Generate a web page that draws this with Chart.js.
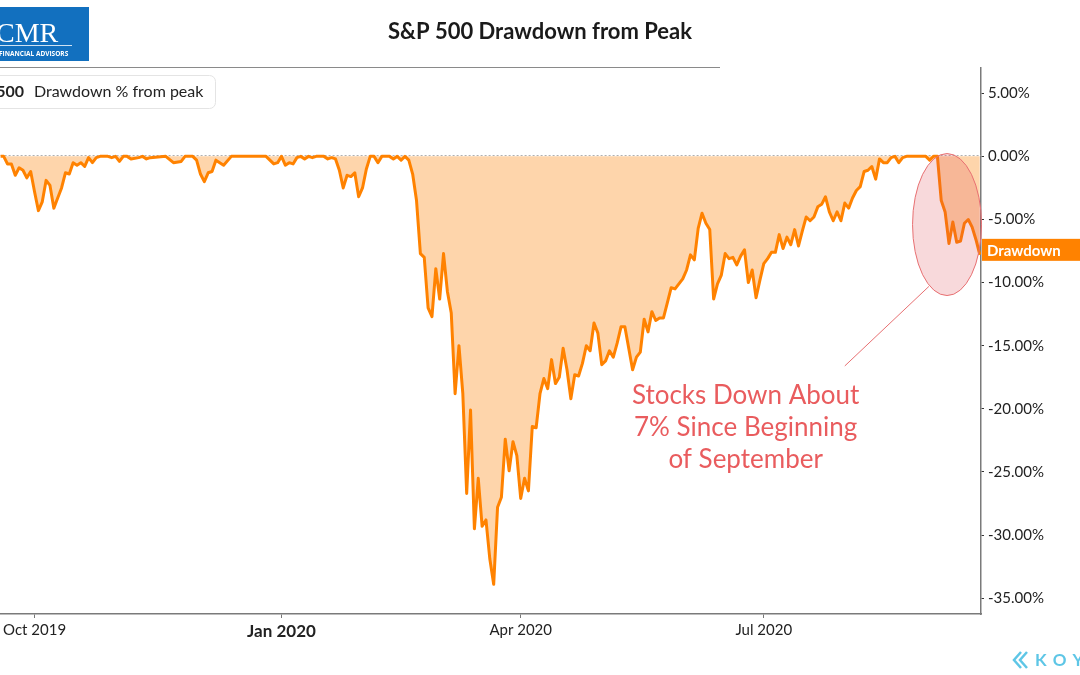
<!DOCTYPE html>
<html>
<head>
<meta charset="utf-8">
<title>S&amp;P 500 Drawdown from Peak</title>
<script src="https://cdn.jsdelivr.net/npm/chart.js@4.4.1/dist/chart.umd.min.js"></script>
<style>
  html, body { margin: 0; padding: 0; background: #fff; }
  #wrap { position: relative; width: 1080px; height: 675px; }
</style>
</head>
<body>
<div id="wrap"><canvas id="drawdownChart"></canvas></div>
<script>
// x = trading days counted from 1 Oct 2019 (day 0)
const tradingDay = [
  -9, -8, -7, -6, -5, -4, -3, -2, -1, 0, 1, 2, 3, 4, 5, 6, 7, 8, 9, 10,
  11, 12, 13, 14, 15, 16, 17, 19, 20, 21, 22, 23, 24, 25, 27, 28, 29, 30, 34, 36,
  38, 39, 41, 42, 43, 44, 45, 46, 47, 48, 49, 51, 60, 62, 63, 64, 65, 66, 67, 68,
  69, 70, 71, 72, 73, 75, 76, 77, 78, 79, 80, 81, 82, 83, 84, 85, 86, 87, 88, 89,
  90, 92, 93, 94, 95, 96, 97, 98, 99,
  100, 101, 102, 103, 104, 105, 106, 107, 108, 109, 110, 111, 112, 113, 114, 115, 116, 117, 118, 119,
  120, 121, 122, 123, 124, 125, 126, 127, 128, 129, 130, 131, 132, 133, 134, 135, 136, 137, 138, 139,
  140, 141, 142, 143, 144, 145, 146, 147, 148, 149, 150, 151, 152, 153, 154, 155, 156, 157, 158, 159,
  160, 161, 162, 163, 164, 165, 166, 167, 168, 169, 170, 171, 172, 173, 174, 175, 176, 177, 178, 179,
  180, 181, 182, 183, 184, 185, 186, 187, 188, 189, 190, 191, 192, 193, 194, 195, 196, 197, 198, 199,
  200, 201, 202, 203, 204, 205, 206, 207, 208, 209, 210, 211, 212, 213, 214, 215, 216, 217, 218, 219,
  220, 221, 222, 223, 224, 225, 226, 231, 232, 233, 234, 235, 236, 237, 238, 239, 240, 241, 242, 243,
  244, 245
];

// drawdown from peak, %
const drawdown = [
  0, 0, -0.6, -0.6, -1.5, -0.9, -1.1, -1.7, -1.2, -2.8, -4.3, -3.6, -1.9, -2.3, -4.1, -3.3, -2.5, -1.3, -1.4, -0.5,
  -0.7, -0.5, -0.8, -0.1, -0.5, -0.1, 0, 0, -0.1, 0, -0.4, 0, 0, -0.2, -0.1, 0, -0.2, -0.1, 0, -0.5,
  -0.4, 0, 0, -0.3, -1.4, -2.0, -1.3, -1.2, -0.3, -0.5, -0.7, 0, 0, -0.6, -0.5, 0, -0.7, -0.5, -0.6, -0.1,
  0, -0.2, 0, -0.1, 0, 0, -0.2, -0.1, -0.2, -1.1, -2.5, -1.5, -1.6, -1.3, -3.2, -2.5, -1.0, 0, 0, -0.5,
  0, 0, -0.2, 0, -0.3, 0, -0.3, -1.4, -3.5,
  -7.7, -8.0, -12.0, -12.7, -8.9, -11.3, -7.7, -10.7, -12.4, -18.8, -15.0, -18.8, -26.7, -20.1, -29.5, -25.5, -29.3, -28.8, -31.9, -33.9,
  -27.8, -27.0, -22.4, -24.9, -22.6, -23.7, -27.1, -25.5, -26.5, -21.4, -21.5, -18.8, -17.6, -18.4, -16.1, -18.0, -17.5, -15.2, -16.9, -19.2,
  -17.3, -17.4, -16.4, -15.0, -15.4, -13.2, -14.0, -16.5, -16.2, -15.4, -15.9, -14.8, -13.5, -13.5, -15.2, -16.9, -15.9, -15.5, -12.9, -13.9,
  -12.3, -13.0, -12.8, -12.8, -11.6, -10.4, -10.5, -10.1, -9.7, -9.0, -7.8, -8.2, -5.7, -4.5, -5.3, -5.8, -11.3, -10.1, -9.4, -7.7,
  -8.1, -8.0, -8.6, -7.9, -7.4, -10.0, -9.0, -11.2, -9.8, -8.5, -8.1, -7.6, -7.6, -6.2, -7.3, -6.4, -7.0, -5.8, -7.1, -5.9,
  -4.8, -5.1, -4.8, -4.0, -3.8, -3.2, -4.4, -5.1, -4.4, -5.1, -3.7, -4.1, -3.3, -2.7, -2.4, -1.2, -1.1, -0.8, -1.8, -0.2,
  -0.5, -0.5, -0.1, 0, -0.5, -0.1, 0, 0, -0.3, 0, 0, -3.5, -4.4, -6.9, -5.2, -6.8, -6.7, -5.3, -5.0, -5.6,
  -6.6, -7.8
];

const tickDays = [0, 64, 126, 189];
const tickLabels = ["Oct 2019", "Jan 2020", "Apr 2020", "Jul 2020"];
const yTicks = [5, 0, -5, -10, -15, -20, -25, -30, -35];

const calloutLines = ["Stocks Down About", "7% Since Beginning", "of September"];

const ORANGE = "#ff8200";
const PEACH = "#fed5ab";
const CALLOUT = "#e95c5e";
const FONT = "Lato, sans-serif";

Chart.defaults.font.family = FONT;

const decorations = {
  id: "decorations",
  beforeDraw(chart) {
    const c = chart.ctx;
    c.save();
    c.fillStyle = "#fff";
    c.fillRect(0, 0, chart.width, chart.height);

    // CMR logo (cut at the left edge)
    c.fillStyle = "#1270bf";
    c.fillRect(0, 7, 89, 54);
    c.fillStyle = "#fff";
    c.font = '28px "Liberation Serif", "DejaVu Serif", serif';
    c.textAlign = "left";
    c.textBaseline = "alphabetic";
    c.fillText("CMR", -4, 42);
    c.globalAlpha = 0.8;
    c.fillRect(0, 45, 72, 1);
    c.globalAlpha = 1;
    c.font = 'bold 6.5px "Open Sans", sans-serif';
    c.fillText("FINANCIAL ADVISORS", -1, 56);

    // title
    c.fillStyle = "#1a1a1a";
    c.font = "bold 22px " + FONT;
    c.textAlign = "center";
    c.fillText("S&P 500 Drawdown from Peak", 540, 39);

    // header rule
    c.strokeStyle = "#8a8a8a";
    c.lineWidth = 1;
    c.beginPath();
    c.moveTo(0, chart.chartArea.top - 0.5);
    c.lineTo(720, chart.chartArea.top - 0.5);
    c.stroke();

    // legend box
    c.strokeStyle = "#e4e4e4";
    c.lineWidth = 1;
    c.beginPath();
    c.roundRect(-10.5, 75.5, 226, 33, 6);
    c.stroke();
    c.fillStyle = "#222";
    c.textAlign = "right";
    c.font = "bold 16px " + FONT;
    c.fillText("S&P 500", 24, 97);
    c.textAlign = "left";
    c.font = "16px " + FONT;
    c.fillText("Drawdown % from peak", 34, 97);
    c.restore();
  },
  beforeDatasetsDraw(chart) {
    const c = chart.ctx;
    const area = chart.chartArea;
    const y0 = Math.round(chart.scales.y.getPixelForValue(0)) - 0.5;
    c.save();
    c.strokeStyle = "#b0b0b0";
    c.lineWidth = 1;
    c.setLineDash([2, 2]);
    c.beginPath();
    c.moveTo(area.left, y0);
    c.lineTo(area.right, y0);
    c.stroke();
    c.restore();
  },
  afterDatasetsDraw(chart) {
    const c = chart.ctx;
    const xs = chart.scales.x;
    const ys = chart.scales.y;
    c.save();
    // ellipse around the September drop
    const ex = xs.getPixelForValue(236.5);
    const ey = ys.getPixelForValue(-5.4);
    c.beginPath();
    c.ellipse(ex, ey, 34.5, 71, 0, 0, Math.PI * 2);
    c.fillStyle = "rgba(219, 65, 76, 0.2)";
    c.fill();
    c.strokeStyle = "#e87072";
    c.lineWidth = 1;
    c.stroke();

    // leader line
    c.beginPath();
    c.moveTo(xs.getPixelForValue(210), ys.getPixelForValue(-16.6));
    c.lineTo(xs.getPixelForValue(231.8), ys.getPixelForValue(-10.3));
    c.stroke();

    // callout text
    const tx = xs.getPixelForValue(184.3);
    const ty = ys.getPixelForValue(-19.65);
    c.fillStyle = CALLOUT;
    c.font = "26px " + FONT;
    c.textAlign = "center";
    c.textBaseline = "alphabetic";
    calloutLines.forEach((line, i) => c.fillText(line, tx, ty + i * 32));
    c.restore();
  },
  afterDraw(chart) {
    const c = chart.ctx;
    const area = chart.chartArea;
    const ys = chart.scales.y;
    c.save();
    // last value label on the axis
    const ly = ys.getPixelForValue(drawdown[drawdown.length - 1]);
    c.fillStyle = ORANGE;
    c.fillRect(area.right + 1, ly - 16, chart.width - area.right, 22);
    c.fillStyle = "#fff";
    c.font = "bold 15px " + FONT;
    c.textAlign = "left";
    c.textBaseline = "middle";
    c.fillText("Drawdown", area.right + 6, ly - 4);

    // koyfin mark, cut at the right edge
    c.strokeStyle = "#5ec6e6";
    c.lineWidth = 2.5;
    c.beginPath();
    c.moveTo(1021, 652); c.lineTo(1014, 660); c.lineTo(1021, 668);
    c.moveTo(1027, 652); c.lineTo(1020, 660); c.lineTo(1027, 668);
    c.stroke();
    c.fillStyle = "#5ec6e6";
    c.font = "bold 17px " + FONT;
    c.textBaseline = "alphabetic";
    let kx = 1035;
    for (const ch of "KOYFIN") {
      c.fillText(ch, kx, 666);
      kx += c.measureText(ch).width + 6;
    }
    c.restore();
  }
};

new Chart(document.getElementById("drawdownChart"), {
  type: "line",
  data: {
    datasets: [{
      label: "Drawdown % from peak",
      data: tradingDay.map((d, i) => ({ x: d, y: drawdown[i] })),
      borderColor: ORANGE,
      backgroundColor: PEACH,
      borderWidth: 3,
      borderJoinStyle: "round",
      pointRadius: 0,
      tension: 0,
      fill: "origin"
    }]
  },
  options: {
    responsive: true,
    maintainAspectRatio: false,
    animation: false,
    devicePixelRatio: 1,
    layout: { padding: { top: 68, left: 0, right: 0, bottom: 0 } },
    plugins: {
      legend: { display: false },
      tooltip: { enabled: false }
    },
    scales: {
      x: {
        type: "linear",
        min: -8.8,
        max: 245.3,
        afterBuildTicks: (scale) => { scale.ticks = tickDays.map((v) => ({ value: v })); },
        afterFit: (scale) => { scale.height = 61; },
        grid: { drawOnChartArea: false, drawTicks: true, tickLength: 4, tickColor: "#777" },
        border: { display: true, color: "#7a7a7a", width: 1.5 },
        ticks: {
          autoSkip: false,
          maxRotation: 0,
          padding: 3,
          color: "#222",
          font: (ctx) => (ctx.tick && ctx.tick.value === 64)
            ? { size: 17, weight: "bold" }
            : { size: 15 },
          callback: (v) => tickLabels[tickDays.indexOf(v)]
        }
      },
      y: {
        type: "linear",
        position: "right",
        min: -36.25,
        max: 7,
        afterBuildTicks: (scale) => { scale.ticks = yTicks.map((v) => ({ value: v })); },
        afterFit: (scale) => { scale.width = 99; },
        grid: { drawOnChartArea: false, drawTicks: true, tickLength: 3, tickColor: "#333" },
        border: { display: true, color: "#7a7a7a", width: 1.5 },
        ticks: {
          padding: 4,
          color: "#222",
          font: { size: 15 },
          callback: (v) => v.toFixed(2) + "%"
        }
      }
    }
  },
  plugins: [decorations]
});
</script>
</body>
</html>
